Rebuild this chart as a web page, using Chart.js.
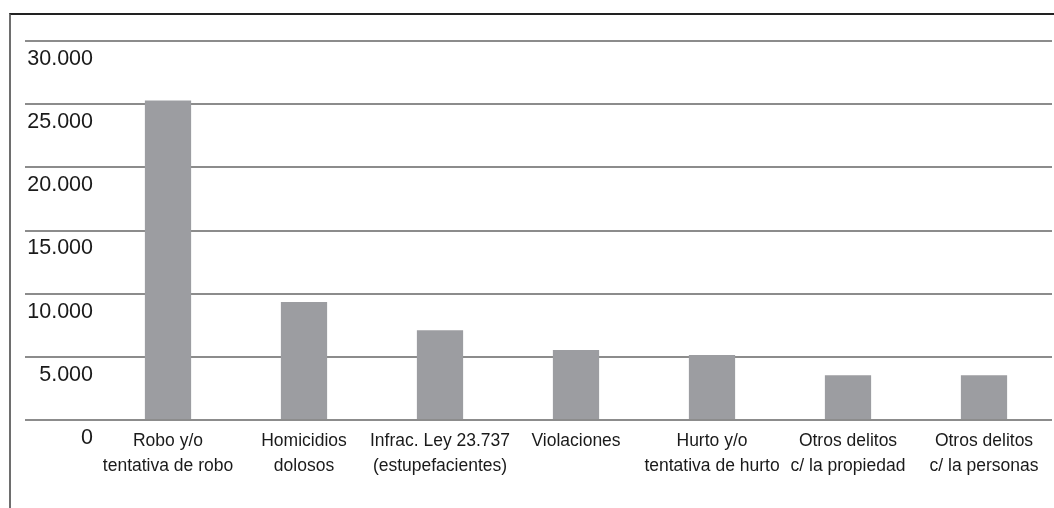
<!DOCTYPE html>
<html lang="es">
<head>
    <meta charset="UTF-8">
    <title>Delitos</title>
    <script src="https://cdn.jsdelivr.net/npm/chart.js"></script>
    <style>
        body {
            margin: 0;
            background: #ffffff;
            font-family: "Liberation Sans", Arial, sans-serif;
        }
        .frame {
            position: absolute;
            left: 9px;
            top: 13px;
            width: 1100px;
            height: 600px;
            border-left: 2px solid #6e6e6e;
            border-top: 2px solid #222;
        }
        #chart {
            position: absolute;
            left: 0;
            top: 0;
        }
    </style>
</head>
<body>
    <div class="frame"></div>
    <canvas id="chart" width="1054" height="508"></canvas>

    <script>
        // categorías (dos líneas por etiqueta)
        const categorias = [
            ['Robo y/o', 'tentativa de robo'],
            ['Homicidios', 'dolosos'],
            ['Infrac. Ley 23.737', '(estupefacientes)'],
            ['Violaciones'],
            ['Hurto y/o', 'tentativa de hurto'],
            ['Otros delitos', 'c/ la propiedad'],
            ['Otros delitos', 'c/ la personas']
        ];
        const valores = [25300, 9350, 7100, 5550, 5150, 3550, 3550];
        const yTicks = [0, 5000, 10000, 15000, 20000, 25000, 30000];

        function formato(v) {
            return String(v).replace(/\B(?=(\d{3})+(?!\d))/g, '.');
        }

        const ctx = document.getElementById('chart').getContext('2d');
        new Chart(ctx, {
            type: 'bar',
            data: {
                labels: categorias,
                datasets: [{
                    data: valores,
                    backgroundColor: '#9c9da1',
                    barPercentage: 0.68,
                    categoryPercentage: 0.5
                }]
            },
            options: {
                responsive: false,
                animation: false,
                layout: { padding: { left: 25, right: 2, top: 41, bottom: 0 } },
                plugins: {
                    legend: { display: false },
                    tooltip: { enabled: false }
                },
                scales: {
                    x: {
                        grid: { display: false },
                        border: { display: false },
                        ticks: {
                            color: '#1a1a1a',
                            font: { family: '"Liberation Sans", Arial, sans-serif', size: 17.5, lineHeight: '25px' },
                            padding: 1,
                            maxRotation: 0,
                            autoSkip: false
                        },
                        afterFit: s => { s.height = 88; }
                    },
                    y: {
                        min: 0,
                        max: 30000,
                        afterBuildTicks: s => { s.ticks = yTicks.map(v => ({ value: v })); },
                        grid: { color: '#8c8c8c', lineWidth: 2, drawTicks: true, tickLength: 75 },
                        border: { display: false },
                        ticks: {
                            color: '#1a1a1a',
                            font: { family: '"Liberation Sans", Arial, sans-serif', size: 21.5 },
                            padding: -68,
                            labelOffset: 18,
                            callback: v => formato(v)
                        },
                        afterFit: s => { s.width = 75; }
                    }
                }
            }
        });
    </script>
</body>
</html>
